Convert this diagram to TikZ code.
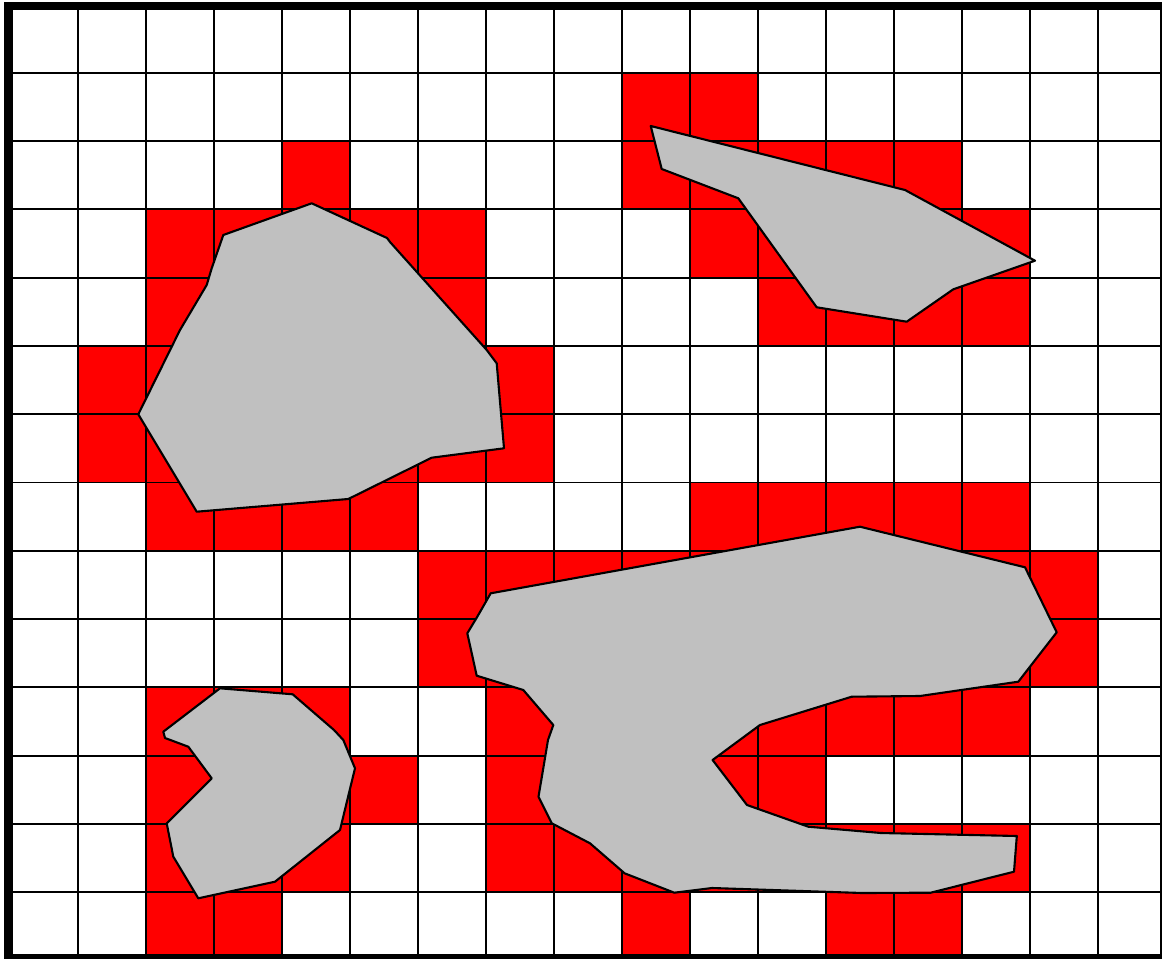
\documentclass[tikz,border=0pt]{standalone}
\definecolor{obst}{RGB}{192,192,192}
\definecolor{occ}{RGB}{255,0,0}
\begin{document}
\begin{tikzpicture}[x=0.02cm,y=-0.02cm,
  cellfill/.style={fill=occ},
  gridline/.style={line width=1.1pt,draw=black},
  obstacle/.style={fill=obst,draw=black,line width=1.2pt,line join=round},
  frameband/.style={fill=black}]
\useasboundingbox (0,0) rectangle (1162,959);
\fill[white] (0,0) rectangle (1162,959);
\begin{scope}
\clip (4,2) rectangle (1162,959);
% occupied cells
\foreach \r/\cs in {1/{9,10},
                    2/{4,9,10,11,12,13},
                    3/{2,3,4,5,6,10,11,12,13,14},
                    4/{2,3,4,5,6,11,12,13,14},
                    5/{1,2,3,4,5,6,7},
                    6/{1,2,3,4,5,6,7},
                    7/{2,3,4,5,10,11,12,13,14},
                    8/{6,7,8,9,10,11,12,13,14,15},
                    9/{6,7,8,9,10,11,12,13,14,15},
                    10/{2,3,4,7,8,9,10,11,12,13,14},
                    11/{2,3,4,5,7,8,9,10,11},
                    12/{2,3,4,7,8,9,10,11,12,13,14},
                    13/{2,3,9,12,13}}{
  \foreach \c in \cs {
    \fill[cellfill] ({9.7+68*\c},{4.4+68.3*\r}) rectangle ++(68,68.3);
  }
}
% grid lines
\foreach \k in {1,...,16} {
  \draw[gridline] ({9.7+68*\k},6) -- ({9.7+68*\k},956);
}
\foreach \k in {1,...,13} {
  \draw[gridline] (8,{4.4+68.3*\k}) -- (1161,{4.4+68.3*\k});
}
% obstacles
\draw[obstacle] (311.7,203.3) -- (387,238) -- (390,242) -- (486.7,350) -- (496.7,363.3)
  -- (504,448.3) -- (431.7,457.7) -- (348.3,499) -- (196.7,511.7) -- (138.3,414.3)
  -- (180,330) -- (206.7,285) -- (211.7,268.3) -- (223.3,235) -- cycle;
\draw[obstacle] (650.7,126) -- (905,190) -- (1035,260.7) -- (953.3,289.3)
  -- (906.7,321.7) -- (816.7,307.3) -- (738.3,198.3) -- (661.7,169) -- cycle;
\draw[obstacle] (220,688.3) -- (292.7,694.3) -- (334,730) -- (343.3,740) -- (355,768.3)
  -- (340,830) -- (275,881.7) -- (198.3,898.3) -- (173.3,856.7) -- (166.7,823.3)
  -- (211.7,778.3) -- (188.3,746.7) -- (165,738) -- (163.3,731.7) -- cycle;
\draw[obstacle] (490.7,593.3) -- (860,526.7) -- (1025,567.3) -- (1056.7,632.3)
  -- (1018.3,681.7) -- (920,696) -- (851.7,696.7) -- (760,725) -- (712.6,760)
  -- (747,805) -- (808.3,826.7) -- (881,833) -- (1016.8,836) -- (1014,871.7)
  -- (930.7,892.7) -- (862,893) -- (712,888) -- (674.3,892.7) -- (624.6,873.3)
  -- (590,843.3) -- (551.8,823.3) -- (538.5,796.7) -- (548,740) -- (553.3,725)
  -- (523.3,690) -- (476.7,675.7) -- (467.3,633.3) -- (477.3,616.7) -- cycle;
\end{scope}
% frame
\fill[frameband] (4,2) rectangle (13,959);
\fill[frameband] (4,2) rectangle (1162,10);
\fill[frameband] (4,954) rectangle (1162,959);
\fill[frameband] (1159.5,2) rectangle (1162,959);
\end{tikzpicture}
\end{document}
